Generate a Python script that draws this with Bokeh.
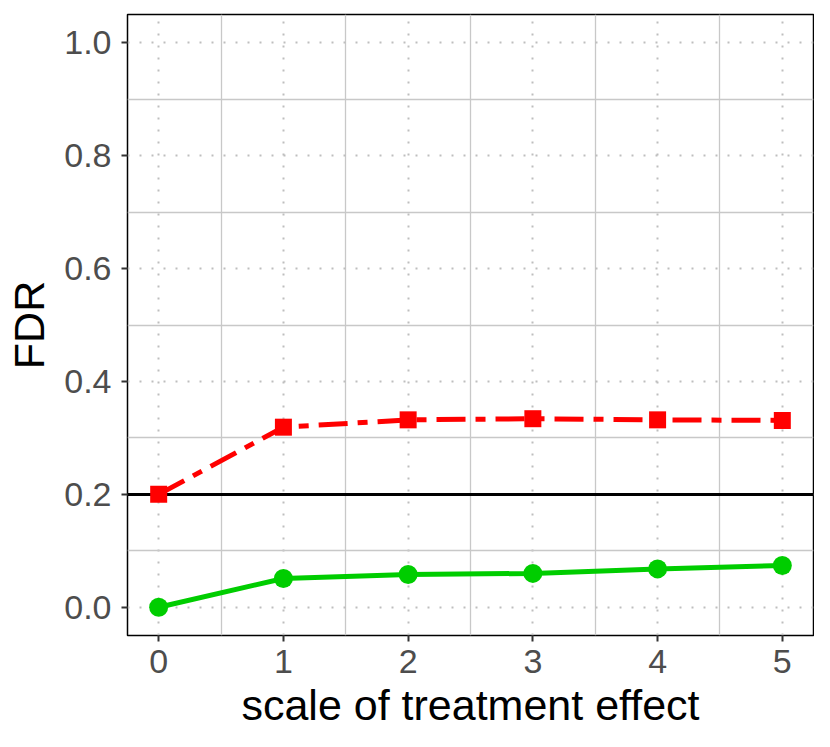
from bokeh.plotting import figure
from bokeh.models import Range1d, FixedTicker, PrintfTickFormatter, ColumnDataSource
from bokeh.embed import file_html
from bokeh.resources import INLINE

# data
scale = [0, 1, 2, 3, 4, 5]
fdr_red = [0.200, 0.319, 0.332, 0.334, 0.332, 0.331]
fdr_green = [0.000, 0.051, 0.058, 0.060, 0.068, 0.074]
target_fdr = [0.2]
x_ticks = [0, 1, 2, 3, 4, 5]
y_ticks = [0.0, 0.2, 0.4, 0.6, 0.8, 1.0]
x_minor = [0.5, 1.5, 2.5, 3.5, 4.5]
y_minor = [0.1, 0.3, 0.5, 0.7, 0.9]

FONT = "Liberation Sans"

p = figure(width=814, height=731, output_backend="svg", toolbar_location=None,
           x_range=Range1d(-0.25, 5.25), y_range=Range1d(-0.05, 1.05),
           min_border_left=127, min_border_right=1, min_border_top=14, min_border_bottom=96)

p.background_fill_color = "white"
p.border_fill_color = "white"
p.outline_line_color = "black"
p.outline_line_width = 1.5

# ticks
p.xaxis.ticker = FixedTicker(ticks=x_ticks, minor_ticks=x_minor)
p.yaxis.ticker = FixedTicker(ticks=y_ticks, minor_ticks=y_minor)
p.yaxis.formatter = PrintfTickFormatter(format="%.1f")

for ax in (p.xaxis, p.yaxis):
    ax.axis_line_color = None
    ax.major_tick_in = 0
    ax.major_tick_out = 6
    ax.major_tick_line_color = "#333333"
    ax.major_tick_line_width = 2
    ax.minor_tick_line_color = None
    ax.major_label_text_font = FONT
    ax.major_label_text_font_size = "34px"
    ax.major_label_text_color = "#4D4D4D"
    ax.axis_label_text_font = FONT
    ax.axis_label_text_font_size = "43px"
    ax.axis_label_text_font_style = "normal"
    ax.axis_label_text_color = "black"

p.xaxis.axis_label = "scale of treatment effect"
p.yaxis.axis_label = "FDR"
p.xaxis.major_label_standoff = 8
p.xaxis.axis_label_standoff = 5
p.yaxis.major_label_standoff = 10
p.yaxis.axis_label_standoff = 8

# grids
for g in (p.xgrid, p.ygrid):
    g.grid_line_color = "#BEBEBE"
    g.grid_line_width = 2
    g.grid_line_dash = "2 10"
    g.minor_grid_line_color = "#C8C8C8"
    g.minor_grid_line_width = 1.3

# reference line
p.hspan(y=target_fdr, line_color="black", line_width=3)

src = ColumnDataSource(dict(x=scale, red=fdr_red, green=fdr_green))

p.line("x", "red", source=src, line_color="#FF0000", line_width=5, line_dash="29 10 10 10")
p.scatter("x", "red", source=src, marker="square", size=17, fill_color="#FF0000", line_color=None)

p.line("x", "green", source=src, line_color="#00CD00", line_width=5)
p.scatter("x", "green", source=src, marker="circle", size=19, fill_color="#00CD00", line_color=None)

open("out.html", "w").write(file_html(p, INLINE))
